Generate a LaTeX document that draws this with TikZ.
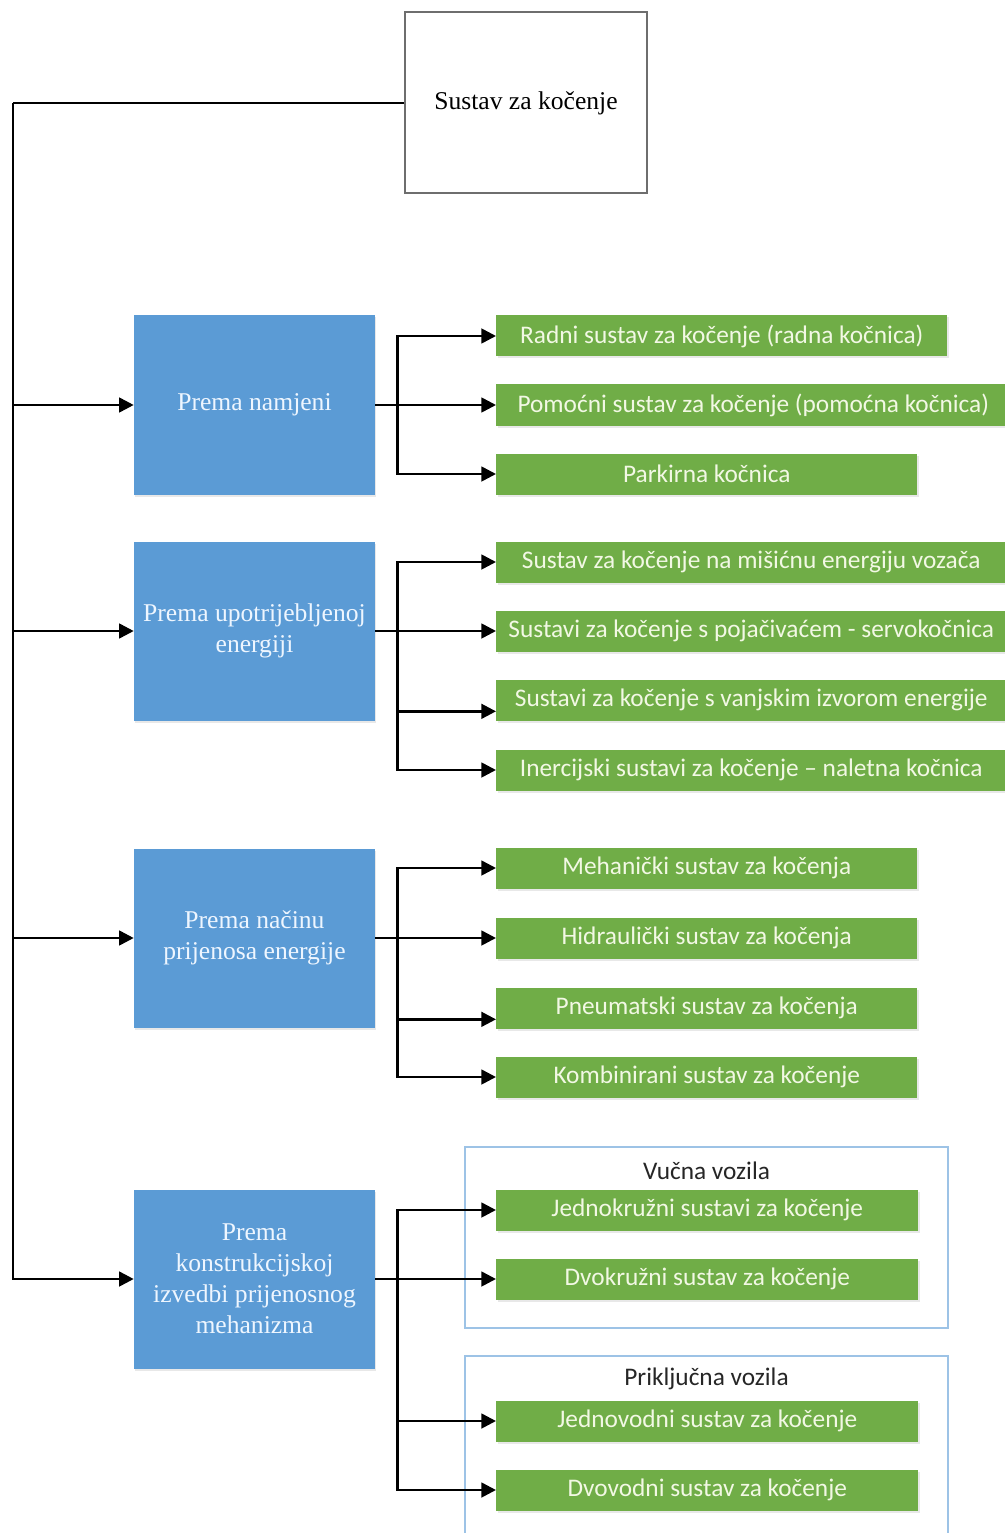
\documentclass[tikz,border=0pt]{standalone}
\usepackage{fontspec}
\setmainfont{Liberation Serif}
\newfontfamily\calfont{Carlito}
\usetikzlibrary{arrows.meta,shadows}
\definecolor{grn}{HTML}{70AD47}
\definecolor{blu}{HTML}{5B9BD5}
\definecolor{grntext}{HTML}{F2F8E4}
\definecolor{blutext}{HTML}{EEF6FF}
\definecolor{framec}{HTML}{9DC3E6}
\definecolor{topborder}{HTML}{6E6E6E}
\begin{document}
\begin{tikzpicture}[x=0.75pt,y=-0.75pt,
  shad/.style={drop shadow={opacity=0.18,shadow xshift=1pt,shadow yshift=-1.5pt}},
  topbox/.style={draw=topborder,line width=1.5pt,fill=white,minimum width=181.5pt,minimum height=135.75pt,inner sep=0pt,font=\fontsize{19.2}{22}\selectfont},
  bluebox/.style={shad,fill=blu,minimum width=180.75pt,minimum height=134.25pt,text=blutext,align=center,inner sep=0pt,font=\fontsize{19.2}{23.25}\selectfont},
  greenbox/.style={shad,fill=grn,anchor=west,minimum height=30.75pt,text=grntext,inner sep=0pt,font=\calfont\fontsize{19}{22}\selectfont},
  frame/.style={draw=framec,line width=0.9pt,fill=white,minimum width=362.25pt,inner sep=0pt},
  framelabel/.style={font=\calfont\fontsize{19}{22}\selectfont,text=black!85},
  arr/.style={-{Triangle[length=11pt,width=11pt]},line width=2pt},
  ln/.style={line width=2pt}
]
\useasboundingbox (0,0) rectangle (1005,1533);
\clip (0,0) rectangle (1005,1533);

% top box
\node[topbox] (top) at (526,103) {Sustav za ko\v{c}enje};

% blue boxes
\node[bluebox] (b1) at (254.5,405) {Prema namjeni};
\node[bluebox] (b2) at (254.5,631) {Prema upotrijebljenoj\\energiji};
\node[bluebox] (b3) at (254.5,938) {Prema na\v{c}inu\\prijenosa energije};
\node[bluebox] (b4) at (254.5,1279) {Prema\\konstrukcijskoj\\izvedbi prijenosnog\\mehanizma};

% frames
\node[frame,minimum height=135.75pt] (f1) at (706.5,1237.5) {};
\node[frame,minimum height=153pt] (f2) at (706.5,1458) {};
\node[framelabel] (f1l) at (706.5,1171) {Vu\v{c}na vozila};
\node[framelabel] (f2l) at (706.5,1379) {Priklju\v{c}na vozila};

% green boxes group 1
\node[greenbox,minimum width=338.25pt] (g11) at (496,336) {Radni sustav za ko\v{c}enje (radna ko\v{c}nica)};
\node[greenbox,minimum width=385.5pt] (g12) at (496,405) {Pomo\'{c}ni sustav za ko\v{c}enje (pomo\'{c}na ko\v{c}nica)};
\node[greenbox,minimum width=315.75pt] (g13) at (496,474) {Parkirna ko\v{c}nica};

% group 2
\node[greenbox,minimum width=382.5pt] (g21) at (496,562) {Sustav za ko\v{c}enje na mi\v{s}i\'{c}nu energiju voza\v{c}a};
\node[greenbox,minimum width=382.5pt] (g22) at (496,631) {Sustavi za ko\v{c}enje s poja\v{c}iva\'{c}em - servoko\v{c}nica};
\node[greenbox,minimum width=382.5pt] (g23) at (496,700) {Sustavi za ko\v{c}enje s vanjskim izvorom energije};
\node[greenbox,minimum width=382.5pt] (g24) at (496,770) {Inercijski sustavi za ko\v{c}enje \textendash{} naletna ko\v{c}nica};

% group 3
\node[greenbox,minimum width=315.75pt] (g31) at (496,868) {Mehani\v{c}ki sustav za ko\v{c}enja};
\node[greenbox,minimum width=315.75pt] (g32) at (496,938) {Hidrauli\v{c}ki sustav za ko\v{c}enja};
\node[greenbox,minimum width=315.75pt] (g33) at (496,1008) {Pneumatski sustav za ko\v{c}enja};
\node[greenbox,minimum width=315.75pt] (g34) at (496,1077) {Kombinirani sustav za ko\v{c}enje};

% group 4
\node[greenbox,minimum width=316.5pt] (g41) at (496,1210) {Jednokru\v{z}ni sustavi za ko\v{c}enje};
\node[greenbox,minimum width=316.5pt] (g42) at (496,1279) {Dvokru\v{z}ni sustav za ko\v{c}enje};
\node[greenbox,minimum width=316.5pt] (g43) at (496,1421) {Jednovodni sustav za ko\v{c}enje};
\node[greenbox,minimum width=316.5pt] (g44) at (496,1490) {Dvovodni sustav za ko\v{c}enje};

% trunk
\coordinate (tl) at (13,103);
\draw[ln] (top.west) -- (tl);
\draw[arr] (tl) |- (b1.west);
\draw[arr] (tl) |- (b2.west);
\draw[arr] (tl) |- (b3.west);
\draw[arr] (tl) |- (b4.west);

% group 1 branches
\draw[arr] (b1.east) -- ++(22,0) |- (g11.west);
\draw[arr] (b1.east) -- (g12.west);
\draw[arr] (b1.east) -- ++(22,0) |- (g13.west);

% group 2
\draw[arr] (b2.east) -- ++(22,0) |- (g21.west);
\draw[arr] (b2.east) -- (g22.west);
\draw[arr] (b2.east) -- ++(22,0) |- ([yshift=-8.5pt]g23.west);
\draw[arr] (b2.east) -- ++(22,0) |- (g24.west);

% group 3
\draw[arr] (b3.east) -- ++(22,0) |- (g31.west);
\draw[arr] (b3.east) -- (g32.west);
\draw[arr] (b3.east) -- ++(22,0) |- ([yshift=-8.5pt]g33.west);
\draw[arr] (b3.east) -- ++(22,0) |- (g34.west);

% group 4
\draw[arr] (b4.east) -- ++(22,0) |- (g41.west);
\draw[arr] (b4.east) -- (g42.west);
\draw[arr] (b4.east) -- ++(22,0) |- (g43.west);
\draw[arr] (b4.east) -- ++(22,0) |- (g44.west);
\end{tikzpicture}
\end{document}
